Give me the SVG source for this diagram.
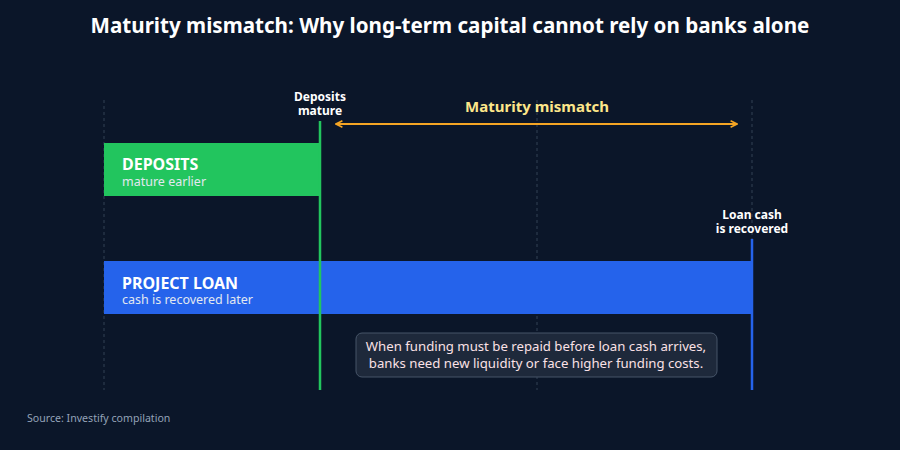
<svg xmlns="http://www.w3.org/2000/svg" width="900" height="450" viewBox="0 0 900 450">
<defs>
<style>
text{font-family:"Noto Sans","Open Sans","DejaVu Sans",sans-serif}
.title{font-size:20.6px;font-weight:700;fill:#ffffff}
.grid{stroke:#334155;stroke-width:1;stroke-dasharray:3 3}
.mark{font-size:12px;font-weight:700;fill:#ffffff}
.bh{font-size:16px;font-weight:700;fill:#ffffff}
.bs{font-size:12.5px;fill:#e2e8f0}
.note{font-size:13.2px;fill:#fbe1e6}
</style>
<marker id="ah" viewBox="0 0 10 10" refX="9" refY="5" markerWidth="8" markerHeight="8" orient="auto-start-reverse" markerUnits="userSpaceOnUse">
<path d="M1,1 L9,5 L1,9" fill="none" stroke="#f5a524" stroke-width="2"/>
</marker>
</defs>
<rect width="900" height="450" fill="#0b1629"/>
<text class="title" x="450" y="33" text-anchor="middle">Maturity mismatch: Why long-term capital cannot rely on banks alone</text>
<g id="grid">
<line class="grid" x1="104" y1="100" x2="104" y2="390"/>
<line class="grid" x1="537" y1="100" x2="537" y2="390"/>
<line class="grid" x1="752" y1="100" x2="752" y2="390"/>
</g>
<g id="deposits">
<rect x="104" y="143" width="216" height="53" fill="#22c55e"/>
<text class="bh" x="122" y="170">DEPOSITS</text>
<text class="bs" x="122" y="186">mature earlier</text>
</g>
<g id="project-loan">
<rect x="104" y="261" width="648" height="53" fill="#2563eb"/>
<text class="bh" x="122" y="289">PROJECT LOAN</text>
<text class="bs" x="122" y="304">cash is recovered later</text>
</g>
<g id="deposits-mature">
<line x1="320" y1="121" x2="320" y2="390" stroke="#22c55e" stroke-width="2.5"/>
<text class="mark" x="320" y="101" text-anchor="middle">Deposits</text>
<text class="mark" x="320" y="115" text-anchor="middle">mature</text>
</g>
<g id="loan-recovered">
<line x1="752" y1="239" x2="752" y2="390" stroke="#2563eb" stroke-width="2.5"/>
<text class="mark" x="752" y="219" text-anchor="middle">Loan cash</text>
<text class="mark" x="752" y="233" text-anchor="middle">is recovered</text>
</g>
<g id="connectors">
<line x1="336" y1="124" x2="737" y2="124" stroke="#f5a524" stroke-width="2" marker-start="url(#ah)" marker-end="url(#ah)"/>
<text x="537" y="112" text-anchor="middle" font-size="15" font-weight="700" fill="#fde68a">Maturity mismatch</text>
</g>
<g id="note">
<rect x="356" y="333" width="361" height="44" rx="6" fill="#1e293b" stroke="#475569" stroke-width="1"/>
<text class="note" x="536" y="351" text-anchor="middle">When funding must be repaid before loan cash arrives,</text>
<text class="note" x="536" y="368" text-anchor="middle">banks need new liquidity or face higher funding costs.</text>
</g>
<text x="27" y="422" font-size="10.6" fill="#94a3b8">Source: Investify compilation</text>
</svg>
